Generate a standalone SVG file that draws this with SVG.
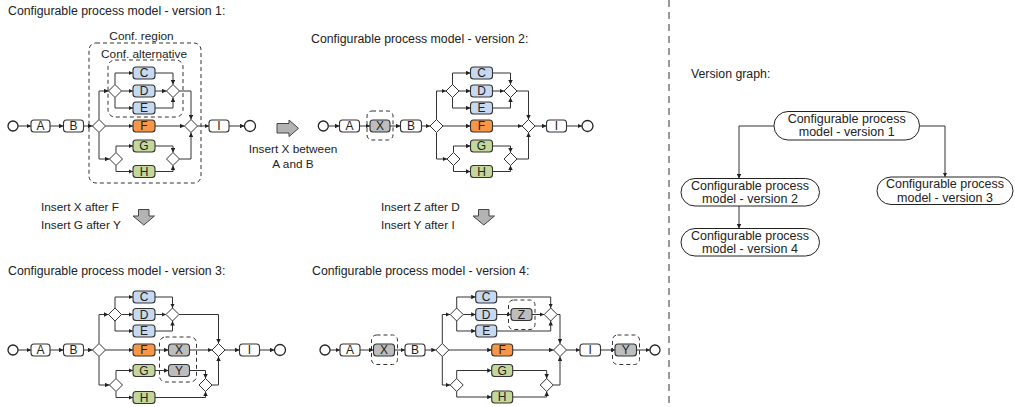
<svg xmlns="http://www.w3.org/2000/svg" width="1015" height="407" viewBox="0 0 1015 407">
<style>
text{font-family:"Liberation Sans",Arial,Helvetica,sans-serif;fill:#222}
.ti{font-size:12.3px}
.lb{font-size:11.8px}
.bl{font-size:12px;text-anchor:middle}
.vg{font-size:12.5px;text-anchor:middle}
.c{text-anchor:middle}
.t{fill:#fff;stroke:#333;stroke-width:1.1}
.cb{fill:#c6d9f1;stroke:#333;stroke-width:1.1}
.co{fill:#f79646;stroke:#333;stroke-width:1.1}
.cg{fill:#c4d79b;stroke:#333;stroke-width:1.1}
.cx{fill:#bdbdbd;stroke:#333;stroke-width:1.1}
.gw{fill:#fff;stroke:#333;stroke-width:1}
.ev{fill:#fff;stroke:#222;stroke-width:1.3}
.ds{fill:none;stroke:#333;stroke-width:1;stroke-dasharray:4,3}
.e{fill:none;stroke:#333;stroke-width:1;marker-end:url(#ah)}
.ba{fill:#b3b3b3;stroke:#444;stroke-width:1}
.vn{fill:#fff;stroke:#222;stroke-width:1}
</style>
<defs>
<marker id="ah" viewBox="0 0 5 5" refX="5" refY="2.5" markerWidth="4.5" markerHeight="4.5" markerUnits="userSpaceOnUse" orient="auto"><path d="M0,0 L5,2.5 L0,5 z" fill="#222"/></marker>
</defs>

<!-- titles and labels -->
<text class="ti" x="8" y="14.5">Configurable process model - version 1:</text>
<text class="ti" x="311" y="42.5">Configurable process model - version 2:</text>
<text class="ti" x="8" y="275">Configurable process model - version 3:</text>
<text class="ti" x="312" y="275">Configurable process model - version 4:</text>
<text class="ti" x="691" y="78">Version graph:</text>

<line x1="669" y1="0" x2="669" y2="407" stroke="#333" stroke-width="1" stroke-dasharray="7,5"/>

<!-- change arrows -->
<g id="op-v1-v2">
<polygon class="ba" points="277,123.5 289,123.5 289,120 298.5,128.3 289,136.6 289,133 277,133"/>
<text class="lb c" x="293" y="153">Insert X between</text>
<text class="lb c" x="293" y="167.5">A and B</text>
</g>
<g id="op-v1-v3">
<polygon class="ba" points="138.5,209.5 149,209.5 149,216 154.5,216 143.8,225 133,216 138.5,216"/>
<text class="lb" x="41" y="211">Insert X after F</text>
<text class="lb" x="41" y="228.5">Insert G after Y</text>
</g>
<g id="op-v2-v4">
<polygon class="ba" points="478.5,209.5 489,209.5 489,216 494.5,216 483.8,225 473,216 478.5,216"/>
<text class="lb" x="381" y="211">Insert Z after D</text>
<text class="lb" x="381" y="228.5">Insert Y after I</text>
</g>

<!-- ================= Version 1 ================= -->
<g id="v1">
<g id="v1-region"><rect class="ds" x="89" y="43" width="112" height="140" rx="7"/><text class="lb c" x="141.5" y="39.5">Conf. region</text></g>
<g id="v1-alt"><rect class="ds" x="108" y="60" width="75" height="57" rx="7"/><text class="lb c" x="144" y="58">Conf. alternative</text></g>
<g id="v1-start"><circle class="ev" cx="13" cy="126" r="5"/></g>
<g id="v1-A"><rect class="t" x="31" y="120" width="19" height="12" rx="3"/><text class="bl" x="40.5" y="130.3">A</text></g>
<g id="v1-B"><rect class="t" x="63.5" y="120" width="20" height="12" rx="3"/><text class="bl" x="73.5" y="130.3">B</text></g>
<g id="v1-s1"><polygon class="gw" points="99,119.5 105.5,126 99,132.5 92.5,126"/></g>
<g id="v1-s2"><polygon class="gw" points="115,84.5 121.5,91 115,97.5 108.5,91"/></g>
<g id="v1-C"><rect class="cb" x="133" y="67" width="22" height="12" rx="3"/><text class="bl" x="144" y="77.3">C</text></g>
<g id="v1-D"><rect class="cb" x="133" y="85" width="22" height="12" rx="3"/><text class="bl" x="144" y="95.3">D</text></g>
<g id="v1-E"><rect class="cb" x="133" y="102" width="22" height="12" rx="3"/><text class="bl" x="144" y="112.3">E</text></g>
<g id="v1-F"><rect class="co" x="133" y="120" width="22" height="12" rx="3"/><text class="bl" x="144" y="130.3">F</text></g>
<g id="v1-s3"><polygon class="gw" points="116,152.5 122.5,159 116,165.5 109.5,159"/></g>
<g id="v1-G"><rect class="cg" x="133" y="140" width="22" height="12" rx="3"/><text class="bl" x="144" y="150.3">G</text></g>
<g id="v1-H"><rect class="cg" x="133" y="165.5" width="22" height="12" rx="3"/><text class="bl" x="144" y="175.8">H</text></g>
<g id="v1-j2"><polygon class="gw" points="173,84.5 179.5,91 173,97.5 166.5,91"/></g>
<g id="v1-j3"><polygon class="gw" points="173,152.5 179.5,159 173,165.5 166.5,159"/></g>
<g id="v1-j1"><polygon class="gw" points="191,119.5 197.5,126 191,132.5 184.5,126"/></g>
<g id="v1-I"><rect class="t" x="209" y="120" width="20" height="12" rx="3"/><text class="bl" x="219" y="130.3">I</text></g>
<g id="v1-end"><circle class="ev" cx="250" cy="126" r="5.5"/></g>
<g id="v1-edges">
<path class="e" d="M18,126 H31"/>
<path class="e" d="M50,126 H63.5"/>
<path class="e" d="M83.5,126 H92.5"/>
<path class="e" d="M99,119.5 V91 H108.5"/>
<path class="e" d="M105.5,126 H133"/>
<path class="e" d="M99,132.5 V159 H109.5"/>
<path class="e" d="M115,84.5 V73 H133"/>
<path class="e" d="M121.5,91 H133"/>
<path class="e" d="M115,97.5 V108 H133"/>
<path class="e" d="M155,73 H173 V84.5"/>
<path class="e" d="M155,91 H166.5"/>
<path class="e" d="M155,108 H173 V97.5"/>
<path class="e" d="M179.5,91 H191 V119.5"/>
<path class="e" d="M155,126 H184.5"/>
<path class="e" d="M116,152.5 V146 H133"/>
<path class="e" d="M116,165.5 V171.5 H133"/>
<path class="e" d="M155,146 H173 V152.5"/>
<path class="e" d="M155,171.5 H173 V165.5"/>
<path class="e" d="M179.5,159 H191 V132.5"/>
<path class="e" d="M197.5,126 H209"/>
<path class="e" d="M229,126 H244.5"/>
</g>
</g>

<!-- ================= Version 2 ================= -->
<g id="v2">
<g id="v2-start"><circle class="ev" cx="323.3" cy="126" r="5"/></g>
<g id="v2-A"><rect class="t" x="339.5" y="120" width="20" height="12" rx="3"/><text class="bl" x="349.5" y="130.3">A</text></g>
<g id="v2-X"><rect class="ds" x="367" y="111" width="26" height="29" rx="5"/><rect class="cx" x="370" y="120" width="20" height="12" rx="3"/><text class="bl" x="380" y="130.3">X</text></g>
<g id="v2-B"><rect class="t" x="400.5" y="120" width="21" height="12" rx="3"/><text class="bl" x="411" y="130.3">B</text></g>
<g id="v2-s1"><polygon class="gw" points="436.5,119.5 443,126 436.5,132.5 430,126"/></g>
<g id="v2-s2"><polygon class="gw" points="452.5,84.5 459,91 452.5,97.5 446,91"/></g>
<g id="v2-C"><rect class="cb" x="470.5" y="67" width="22" height="12" rx="3"/><text class="bl" x="481.5" y="77.3">C</text></g>
<g id="v2-D"><rect class="cb" x="470.5" y="85" width="22" height="12" rx="3"/><text class="bl" x="481.5" y="95.3">D</text></g>
<g id="v2-E"><rect class="cb" x="470.5" y="102" width="22" height="12" rx="3"/><text class="bl" x="481.5" y="112.3">E</text></g>
<g id="v2-F"><rect class="co" x="470.5" y="120" width="22" height="12" rx="3"/><text class="bl" x="481.5" y="130.3">F</text></g>
<g id="v2-s3"><polygon class="gw" points="453.5,152.5 460,159 453.5,165.5 447,159"/></g>
<g id="v2-G"><rect class="cg" x="470.5" y="140" width="22" height="12" rx="3"/><text class="bl" x="481.5" y="150.3">G</text></g>
<g id="v2-H"><rect class="cg" x="470.5" y="165.5" width="22" height="12" rx="3"/><text class="bl" x="481.5" y="175.8">H</text></g>
<g id="v2-j2"><polygon class="gw" points="510.5,84.5 517,91 510.5,97.5 504,91"/></g>
<g id="v2-j3"><polygon class="gw" points="510.5,152.5 517,159 510.5,165.5 504,159"/></g>
<g id="v2-j1"><polygon class="gw" points="528.5,119.5 535,126 528.5,132.5 522,126"/></g>
<g id="v2-I"><rect class="t" x="546.5" y="120" width="20" height="12" rx="3"/><text class="bl" x="556.5" y="130.3">I</text></g>
<g id="v2-end"><circle class="ev" cx="587.5" cy="126" r="5.5"/></g>
<g id="v2-edges">
<path class="e" d="M328.3,126 H339.5"/>
<path class="e" d="M359.5,126 H370"/>
<path class="e" d="M390,126 H400.5"/>
<path class="e" d="M421.5,126 H430"/>
<path class="e" d="M436.5,119.5 V91 H446"/>
<path class="e" d="M443,126 H470.5"/>
<path class="e" d="M436.5,132.5 V159 H447"/>
<path class="e" d="M452.5,84.5 V73 H470.5"/>
<path class="e" d="M459,91 H470.5"/>
<path class="e" d="M452.5,97.5 V108 H470.5"/>
<path class="e" d="M492.5,73 H510.5 V84.5"/>
<path class="e" d="M492.5,91 H504"/>
<path class="e" d="M492.5,108 H510.5 V97.5"/>
<path class="e" d="M517,91 H528.5 V119.5"/>
<path class="e" d="M492.5,126 H522"/>
<path class="e" d="M453.5,152.5 V146 H470.5"/>
<path class="e" d="M453.5,165.5 V171.5 H470.5"/>
<path class="e" d="M492.5,146 H510.5 V152.5"/>
<path class="e" d="M492.5,171.5 H510.5 V165.5"/>
<path class="e" d="M517,159 H528.5 V132.5"/>
<path class="e" d="M535,126 H546.5"/>
<path class="e" d="M566.5,126 H582"/>
</g>
</g>

<!-- ================= Version 3 ================= -->
<g id="v3">
<g id="v3-start"><circle class="ev" cx="13" cy="350" r="5"/></g>
<g id="v3-A"><rect class="t" x="31" y="344" width="19" height="12" rx="3"/><text class="bl" x="40.5" y="354.3">A</text></g>
<g id="v3-B"><rect class="t" x="63.5" y="344" width="20" height="12" rx="3"/><text class="bl" x="73.5" y="354.3">B</text></g>
<g id="v3-s1"><polygon class="gw" points="99,343.5 105.5,350 99,356.5 92.5,350"/></g>
<g id="v3-s2"><polygon class="gw" points="115,308 121.5,314.5 115,321 108.5,314.5"/></g>
<g id="v3-C"><rect class="cb" x="133" y="291" width="22" height="12" rx="3"/><text class="bl" x="144" y="301.3">C</text></g>
<g id="v3-D"><rect class="cb" x="133" y="308.5" width="22" height="12" rx="3"/><text class="bl" x="144" y="318.8">D</text></g>
<g id="v3-E"><rect class="cb" x="133" y="325" width="22" height="12" rx="3"/><text class="bl" x="144" y="335.3">E</text></g>
<g id="v3-F"><rect class="co" x="133" y="344" width="22" height="12" rx="3"/><text class="bl" x="144" y="354.3">F</text></g>
<g id="v3-G"><rect class="cg" x="133" y="364.5" width="22" height="12" rx="3"/><text class="bl" x="144" y="374.8">G</text></g>
<g id="v3-H"><rect class="cg" x="133" y="391.5" width="22" height="12" rx="3"/><text class="bl" x="144" y="401.8">H</text></g>
<g id="v3-XY"><rect class="ds" x="159.5" y="337" width="37" height="45" rx="6"/></g>
<g id="v3-X"><rect class="cx" x="168.5" y="344" width="21" height="12" rx="3"/><text class="bl" x="179" y="354.3">X</text></g>
<g id="v3-Y"><rect class="cx" x="168.5" y="364.5" width="21" height="12" rx="3"/><text class="bl" x="179" y="374.8">Y</text></g>
<g id="v3-j2"><polygon class="gw" points="172.5,308 179,314.5 172.5,321 166,314.5"/></g>
<g id="v3-s3"><polygon class="gw" points="116,378.5 122.5,385 116,391.5 109.5,385"/></g>
<g id="v3-j3"><polygon class="gw" points="205.5,378.5 212,385 205.5,391.5 199,385"/></g>
<g id="v3-j1"><polygon class="gw" points="218.5,343.5 225,350 218.5,356.5 212,350"/></g>
<g id="v3-I"><rect class="t" x="239.5" y="344" width="20" height="12" rx="3"/><text class="bl" x="249.5" y="354.3">I</text></g>
<g id="v3-end"><circle class="ev" cx="280" cy="350" r="5.5"/></g>
<g id="v3-edges">
<path class="e" d="M18,350 H31"/>
<path class="e" d="M50,350 H63.5"/>
<path class="e" d="M83.5,350 H92.5"/>
<path class="e" d="M99,343.5 V314.5 H108.5"/>
<path class="e" d="M105.5,350 H133"/>
<path class="e" d="M99,356.5 V385 H109.5"/>
<path class="e" d="M115,308 V297 H133"/>
<path class="e" d="M121.5,314.5 H133"/>
<path class="e" d="M115,321 V331 H133"/>
<path class="e" d="M155,297 H172.5 V308"/>
<path class="e" d="M155,314.5 H166"/>
<path class="e" d="M155,331 H172.5 V321"/>
<path class="e" d="M179,314.5 H218.5 V343.5"/>
<path class="e" d="M155,350 H168.5"/>
<path class="e" d="M189.5,350 H212"/>
<path class="e" d="M116,378.5 V370.5 H133"/>
<path class="e" d="M116,391.5 V397.5 H133"/>
<path class="e" d="M155,370.5 H168.5"/>
<path class="e" d="M189.5,370.5 H205.5 V378.5"/>
<path class="e" d="M155,397.5 H205.5 V391.5"/>
<path class="e" d="M212,385 H218.5 V356.5"/>
<path class="e" d="M225,350 H239.5"/>
<path class="e" d="M259.5,350 H274.5"/>
</g>
</g>

<!-- ================= Version 4 ================= -->
<g id="v4">
<g id="v4-start"><circle class="ev" cx="325" cy="350" r="5"/></g>
<g id="v4-A"><rect class="t" x="340" y="344" width="20" height="12" rx="3"/><text class="bl" x="350" y="354.3">A</text></g>
<g id="v4-X"><rect class="ds" x="371.5" y="335" width="26" height="29.5" rx="5"/><rect class="cx" x="373.5" y="344" width="21" height="12" rx="3"/><text class="bl" x="384" y="354.3">X</text></g>
<g id="v4-B"><rect class="t" x="405" y="344" width="20" height="12" rx="3"/><text class="bl" x="415" y="354.3">B</text></g>
<g id="v4-s1"><polygon class="gw" points="442.3,343.5 448.8,350 442.3,356.5 435.8,350"/></g>
<g id="v4-s2"><polygon class="gw" points="456.7,308 463.2,314.5 456.7,321 450.2,314.5"/></g>
<g id="v4-C"><rect class="cb" x="475.7" y="291" width="21" height="12" rx="3"/><text class="bl" x="486.2" y="301.3">C</text></g>
<g id="v4-D"><rect class="cb" x="475.7" y="308.5" width="21" height="12" rx="3"/><text class="bl" x="486.2" y="318.8">D</text></g>
<g id="v4-E"><rect class="cb" x="475.7" y="325" width="21" height="12" rx="3"/><text class="bl" x="486.2" y="335.3">E</text></g>
<g id="v4-Z"><rect class="ds" x="508.5" y="300" width="26.5" height="29.5" rx="5"/><rect class="cx" x="511" y="308.5" width="21" height="12" rx="3"/><text class="bl" x="521.5" y="318.8">Z</text></g>
<g id="v4-j2"><polygon class="gw" points="550.7,308 557.2,314.5 550.7,321 544.2,314.5"/></g>
<g id="v4-F"><rect class="co" x="491.7" y="344" width="21" height="12" rx="3"/><text class="bl" x="502.2" y="354.3">F</text></g>
<g id="v4-s3"><polygon class="gw" points="456.7,378.5 463.2,385 456.7,391.5 450.2,385"/></g>
<g id="v4-G"><rect class="cg" x="491.7" y="364.5" width="21" height="12" rx="3"/><text class="bl" x="502.2" y="374.8">G</text></g>
<g id="v4-H"><rect class="cg" x="491.7" y="391" width="21" height="12" rx="3"/><text class="bl" x="502.2" y="401.3">H</text></g>
<g id="v4-j3"><polygon class="gw" points="546.7,378.5 553.2,385 546.7,391.5 540.2,385"/></g>
<g id="v4-j1"><polygon class="gw" points="560,343.5 566.5,350 560,356.5 553.5,350"/></g>
<g id="v4-I"><rect class="t" x="580" y="344" width="20.5" height="12" rx="3"/><text class="bl" x="590.2" y="354.3">I</text></g>
<g id="v4-Y"><rect class="ds" x="612.5" y="335" width="27" height="29.5" rx="5"/><rect class="cx" x="615" y="344" width="21.5" height="12" rx="3"/><text class="bl" x="625.7" y="354.3">Y</text></g>
<g id="v4-end"><circle class="ev" cx="655" cy="350" r="5"/></g>
<g id="v4-edges">
<path class="e" d="M330,350 H340"/>
<path class="e" d="M360,350 H373.5"/>
<path class="e" d="M394.5,350 H405"/>
<path class="e" d="M425,350 H435.8"/>
<path class="e" d="M442.3,343.5 V314.5 H450.2"/>
<path class="e" d="M448.8,350 H491.7"/>
<path class="e" d="M442.3,356.5 V385 H450.2"/>
<path class="e" d="M456.7,308 V297 H475.7"/>
<path class="e" d="M463.2,314.5 H475.7"/>
<path class="e" d="M456.7,321 V331 H475.7"/>
<path class="e" d="M496.7,297 H550.7 V308"/>
<path class="e" d="M496.7,314.5 H511"/>
<path class="e" d="M532,314.5 H544.2"/>
<path class="e" d="M496.7,331 H550.7 V321"/>
<path class="e" d="M557.2,314.5 H560 V343.5"/>
<path class="e" d="M512.7,350 H553.5"/>
<path class="e" d="M456.7,378.5 V370.5 H491.7"/>
<path class="e" d="M456.7,391.5 V397 H491.7"/>
<path class="e" d="M512.7,370.5 H546.7 V378.5"/>
<path class="e" d="M512.7,397 H546.7 V391.5"/>
<path class="e" d="M553.2,385 H560 V356.5"/>
<path class="e" d="M566.5,350 H580"/>
<path class="e" d="M600.5,350 H615"/>
<path class="e" d="M636.5,350 H650"/>
</g>
</g>

<!-- ================= Version graph ================= -->
<g id="vg">
<g id="vg-1"><rect class="vn" x="774" y="111.5" width="145.5" height="28.5" rx="14" ry="14"/><text class="vg" x="846.7" y="122.5">Configurable process</text><text class="vg" x="846.7" y="136">model - version 1</text></g>
<g id="vg-2"><rect class="vn" x="681" y="178.5" width="138.5" height="27.5" rx="14" ry="14"/><text class="vg" x="750" y="189.5">Configurable process</text><text class="vg" x="750" y="203">model - version 2</text></g>
<g id="vg-3"><rect class="vn" x="877" y="177" width="136" height="27.5" rx="14" ry="14"/><text class="vg" x="945" y="188">Configurable process</text><text class="vg" x="945" y="201.5">model - version 3</text></g>
<g id="vg-4"><rect class="vn" x="681" y="228.5" width="138.5" height="27.5" rx="14" ry="14"/><text class="vg" x="750" y="239.5">Configurable process</text><text class="vg" x="750" y="253">model - version 4</text></g>
<g id="vg-edges">
<path class="e" d="M774,126 H739 V178.5"/>
<path class="e" d="M919.5,126 H945 V177"/>
<path class="e" d="M739,206 V228.5"/>
</g>
</g>
</svg>
